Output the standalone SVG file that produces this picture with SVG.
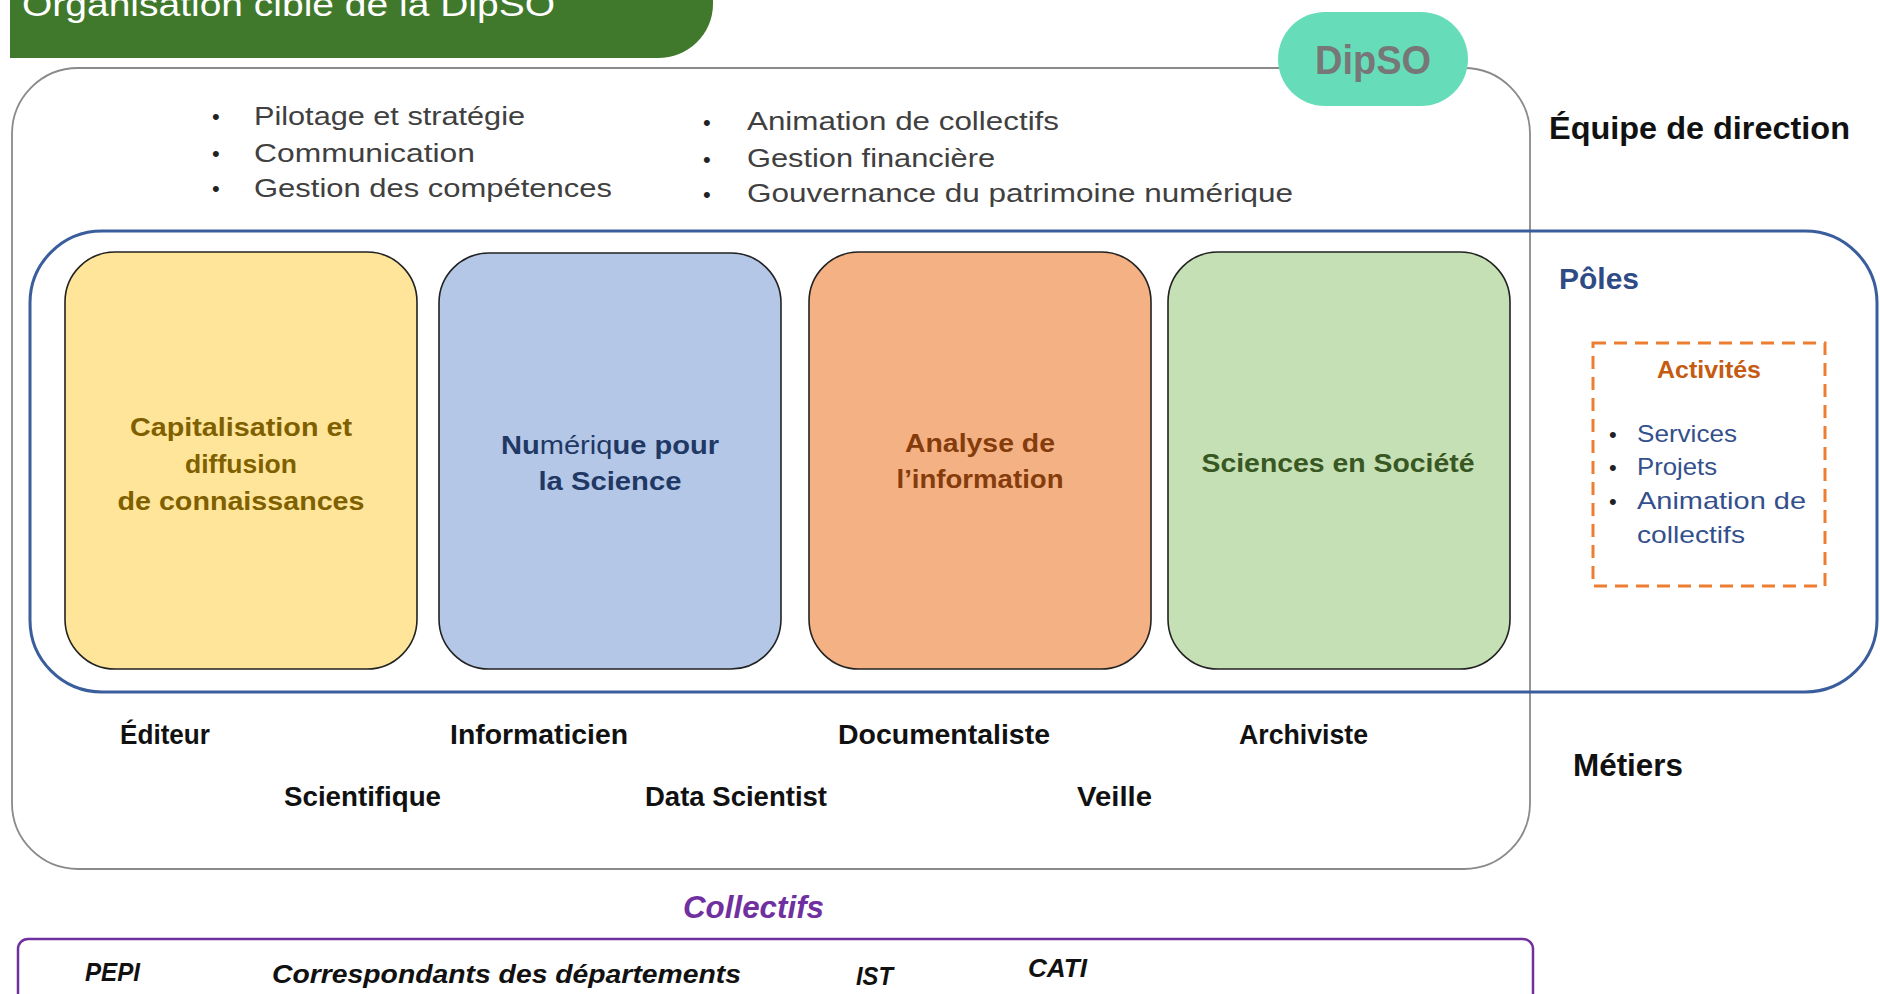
<svg xmlns="http://www.w3.org/2000/svg" width="1880" height="994" viewBox="0 0 1880 994">
<style>
text{font-family:"Liberation Sans","DejaVu Sans",Arial,sans-serif}
.bul{font-size:26px;fill:#404040}
.dot{font-size:22px;fill:#222}
.pole{font-size:26px;font-weight:bold;text-anchor:middle}
.lab{font-size:32px;font-weight:bold;fill:#111}
.met{font-size:28px;font-weight:bold;fill:#111}
.act{font-size:24px;fill:#34508C}
.col{font-size:26px;font-weight:bold;font-style:italic;fill:#111}
.box{stroke:#222;stroke-width:1.6}
</style>
<rect width="1880" height="994" fill="#ffffff"/>

<g id="title">
<path d="M10,-60 H713 V4 A55,54 0 0 1 658,58 H10 Z" fill="#41792C"/>
<text x="22" y="16" font-size="34" fill="#ffffff" textLength="533" lengthAdjust="spacingAndGlyphs">Organisation cible de la DipSO</text>
</g>

<g id="equipe-direction">
<rect x="12" y="68" width="1518" height="801" rx="66" ry="66" fill="#ffffff" stroke="#8a8a8a" stroke-width="1.8"/>
<text class="dot" x="212" y="124">•</text>
<text class="dot" x="212" y="161">•</text>
<text class="dot" x="212" y="196">•</text>
<text class="bul" x="254" y="125" textLength="271" lengthAdjust="spacingAndGlyphs">Pilotage et stratégie</text>
<text class="bul" x="254" y="162" textLength="221" lengthAdjust="spacingAndGlyphs">Communication</text>
<text class="bul" x="254" y="197" textLength="358" lengthAdjust="spacingAndGlyphs">Gestion des compétences</text>
<text class="dot" x="703" y="130">•</text>
<text class="dot" x="703" y="167">•</text>
<text class="dot" x="703" y="202">•</text>
<text class="bul" x="747" y="130" textLength="312" lengthAdjust="spacingAndGlyphs">Animation de collectifs</text>
<text class="bul" x="747" y="167" textLength="248" lengthAdjust="spacingAndGlyphs">Gestion financière</text>
<text class="bul" x="747" y="202" textLength="546" lengthAdjust="spacingAndGlyphs">Gouvernance du patrimoine numérique</text>
<text class="lab" x="1549" y="139" textLength="301" lengthAdjust="spacingAndGlyphs">Équipe de direction</text>
</g>

<g id="dipso">
<rect x="1278" y="12" width="190" height="94" rx="47" ry="47" fill="#66DDB8"/>
<text x="1373" y="74" font-size="40" font-weight="bold" fill="#777777" text-anchor="middle" textLength="116" lengthAdjust="spacingAndGlyphs">DipSO</text>
</g>

<g id="poles">
<rect x="30" y="231" width="1847" height="461" rx="72" ry="72" fill="none" stroke="#3A5E9C" stroke-width="3"/>
<text x="1559" y="289" font-size="30" font-weight="bold" fill="#2F4B85" textLength="80" lengthAdjust="spacingAndGlyphs">Pôles</text>
</g>

<g id="pole-capitalisation">
<rect class="box" x="65" y="252" width="352" height="417" rx="50" ry="50" fill="#FFE599"/>
<text class="pole" x="241" y="436" fill="#7F6000" textLength="222" lengthAdjust="spacingAndGlyphs">Capitalisation et</text>
<text class="pole" x="241" y="473" fill="#7F6000" textLength="112" lengthAdjust="spacingAndGlyphs">diffusion</text>
<text class="pole" x="241" y="510" fill="#7F6000" textLength="247" lengthAdjust="spacingAndGlyphs">de connaissances</text>
</g>

<g id="pole-numerique">
<rect class="box" x="439" y="253" width="342" height="416" rx="50" ry="50" fill="#B4C7E7"/>
<text class="pole" x="610" y="454" fill="#1F3864" textLength="218" lengthAdjust="spacingAndGlyphs">Nu<tspan font-weight="normal">mériq</tspan>ue pour</text>
<text class="pole" x="610" y="490" fill="#1F3864" textLength="143" lengthAdjust="spacingAndGlyphs">la Science</text>
</g>

<g id="pole-analyse">
<rect class="box" x="809" y="252" width="342" height="417" rx="50" ry="50" fill="#F4B183"/>
<text class="pole" x="980" y="452" fill="#843C0C" textLength="150" lengthAdjust="spacingAndGlyphs">Analyse de</text>
<text class="pole" x="980" y="488" fill="#843C0C" textLength="167" lengthAdjust="spacingAndGlyphs">l’information</text>
</g>

<g id="pole-sciences">
<rect class="box" x="1168" y="252" width="342" height="417" rx="50" ry="50" fill="#C5E0B4"/>
<text class="pole" x="1338" y="472" fill="#385723" textLength="273" lengthAdjust="spacingAndGlyphs">Sciences en Société</text>
</g>

<g id="activites">
<rect x="1593" y="343" width="232" height="243" fill="none" stroke="#ED7D31" stroke-width="3" stroke-dasharray="13,8"/>
<text x="1709" y="378" font-size="24" font-weight="bold" fill="#C55A11" text-anchor="middle" textLength="104" lengthAdjust="spacingAndGlyphs">Activités</text>
<text class="dot" x="1609" y="442">•</text>
<text class="dot" x="1609" y="475">•</text>
<text class="dot" x="1609" y="509">•</text>
<text class="act" x="1637" y="442" textLength="100" lengthAdjust="spacingAndGlyphs">Services</text>
<text class="act" x="1637" y="475" textLength="80" lengthAdjust="spacingAndGlyphs">Projets</text>
<text class="act" x="1637" y="509" textLength="169" lengthAdjust="spacingAndGlyphs">Animation de</text>
<text class="act" x="1637" y="543" textLength="108" lengthAdjust="spacingAndGlyphs">collectifs</text>
</g>

<g id="metiers">
<text class="met" x="120" y="744" textLength="90" lengthAdjust="spacingAndGlyphs">Éditeur</text>
<text class="met" x="450" y="744" textLength="178" lengthAdjust="spacingAndGlyphs">Informaticien</text>
<text class="met" x="838" y="744" textLength="212" lengthAdjust="spacingAndGlyphs">Documentaliste</text>
<text class="met" x="1239" y="744" textLength="129" lengthAdjust="spacingAndGlyphs">Archiviste</text>
<text class="met" x="284" y="806" textLength="157" lengthAdjust="spacingAndGlyphs">Scientifique</text>
<text class="met" x="645" y="806" textLength="182" lengthAdjust="spacingAndGlyphs">Data Scientist</text>
<text class="met" x="1077" y="806" textLength="75" lengthAdjust="spacingAndGlyphs">Veille</text>
<text class="lab" x="1573" y="776" textLength="110" lengthAdjust="spacingAndGlyphs">Métiers</text>
</g>

<g id="collectifs">
<text x="683" y="918" font-size="32" font-weight="bold" font-style="italic" fill="#7030A0" textLength="141" lengthAdjust="spacingAndGlyphs">Collectifs</text>
<rect x="18" y="939" width="1515" height="80" rx="10" ry="10" fill="none" stroke="#7030A0" stroke-width="2.5"/>
<text class="col" x="85" y="981" textLength="55" lengthAdjust="spacingAndGlyphs">PEPI</text>
<text class="col" x="272" y="983" textLength="469" lengthAdjust="spacingAndGlyphs">Correspondants des départements</text>
<text class="col" x="856" y="985" textLength="37" lengthAdjust="spacingAndGlyphs">IST</text>
<text class="col" x="1028" y="977" textLength="59" lengthAdjust="spacingAndGlyphs">CATI</text>
</g>

<g id="connectors"></g>
</svg>
